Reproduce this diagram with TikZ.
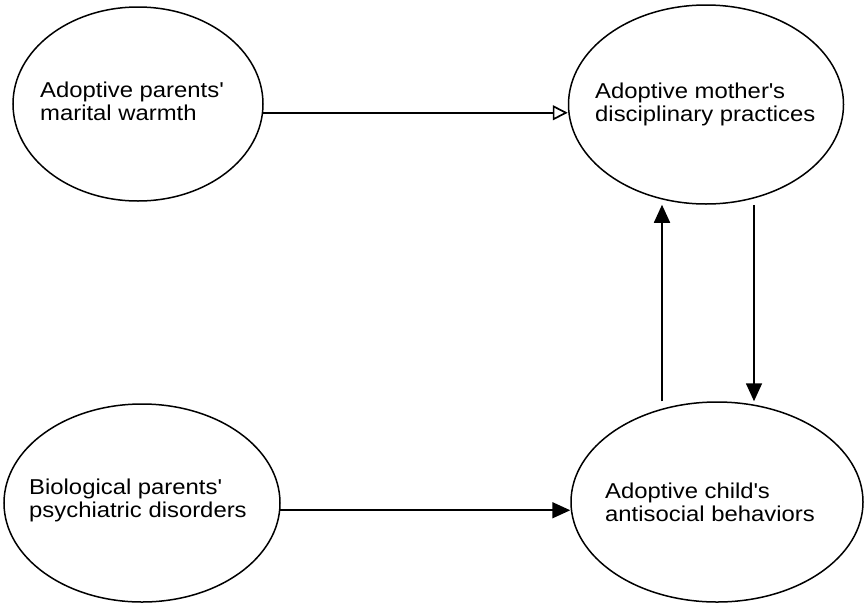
\documentclass[tikz,border=0pt]{standalone}
\usepackage{fontspec}
\setmainfont[FakeStretch=1.11]{Liberation Sans}
\usetikzlibrary{shapes.geometric,arrows.meta}
\begin{document}
\begin{tikzpicture}[x=1pt,y=-1pt,
  oval/.style={ellipse,draw,line width=1.5pt,inner sep=0pt},
  lbl/.style={anchor=north west,inner sep=0pt,align=left,font=\fontsize{21.5}{22.5}\selectfont},
  arr/.style={line width=1.7pt,-{Triangle[length=18pt,width=16pt]}},
  openarr/.style={line width=1.7pt,-{Triangle[length=15pt,width=15pt,fill=white,line width=1.7pt]}}]
\useasboundingbox (0,0) rectangle (866,605);
\node[oval,minimum width=250pt,minimum height=194pt] (e1) at (138,104) {};
\node[oval,minimum width=275pt,minimum height=199pt] (e2) at (706,104.5) {};
\node[oval,minimum width=276pt,minimum height=198pt] (e3) at (142,503) {};
\node[oval,minimum width=292pt,minimum height=200pt] (e4) at (717,502) {};
\node[lbl] (t1) at (40,82) {Adoptive parents\textquotesingle\\marital warmth};
\node[lbl] (t2) at (595,83) {Adoptive mother\textquotesingle s\\disciplinary practices};
\node[lbl] (t3) at (29,479) {Biological parents\textquotesingle\\psychiatric disorders};
\node[lbl] (t4) at (605,483) {Adoptive child\textquotesingle s\\antisocial behaviors};
\coordinate (ux) at (662,0);
\coordinate (dx) at (754,0);
\draw[openarr] (e1.-4) -- (e1.-4 -| e2.west);
\draw[arr] (e3.-3) -- (e3.-3 -| e4.west);
\draw[arr] (ux |- e4.north) -- (ux |- e2.south);
\draw[arr] (dx |- e2.south) -- (dx |- e4.north);
\end{tikzpicture}
\end{document}
